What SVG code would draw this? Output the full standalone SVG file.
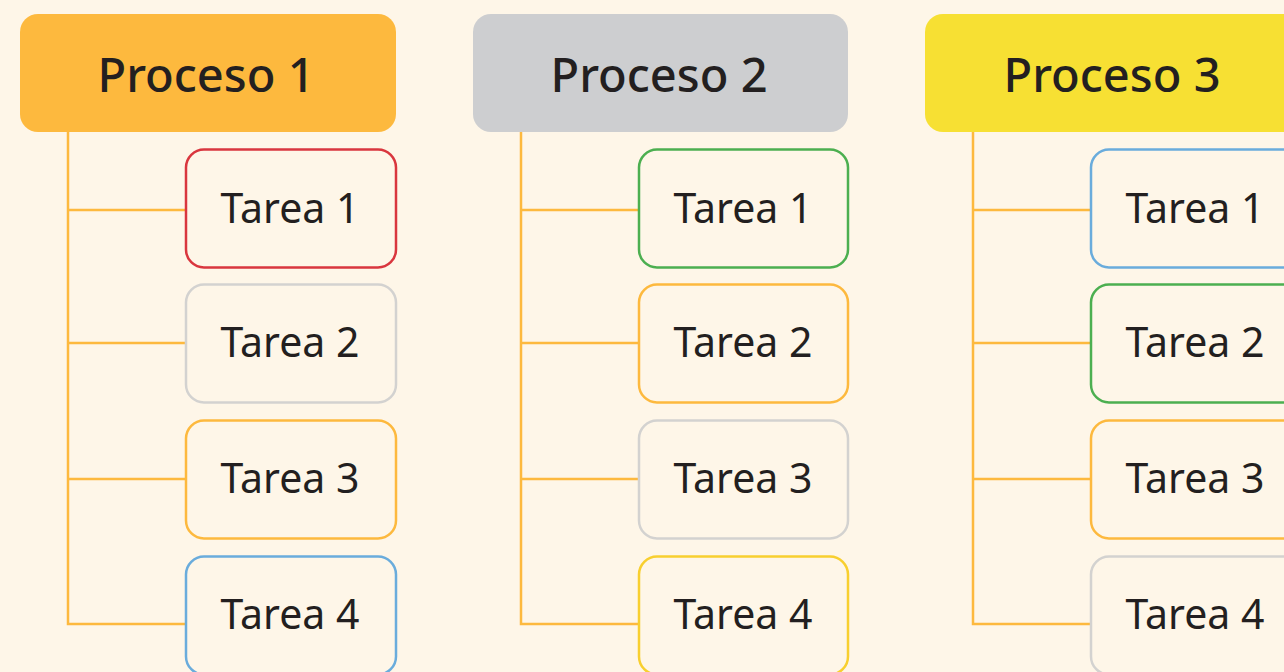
<svg xmlns="http://www.w3.org/2000/svg" width="1284" height="672" viewBox="0 0 1284 672">
<style>
.bg{fill:#FEF6E8}
.hd{stroke:none}
.hdt{font-family:"Noto Sans","Liberation Sans",sans-serif;font-size:47px;font-weight:500;fill:#231F20;text-anchor:middle}
.tk{fill:#FEF6E8;stroke-width:2.5}
.tkt{font-family:"Noto Sans","Liberation Sans",sans-serif;font-size:41px;font-weight:400;fill:#231F20;text-anchor:middle}
.ln{fill:none;stroke:#FDB93E;stroke-width:2.5}
.red{stroke:#D9363E}.gray{stroke:#D3D2D0}.orange{stroke:#FDB93E}.blue{stroke:#6AACDC}.green{stroke:#4CAF50}.yellow{stroke:#F8CF2F}
</style>
<rect class="bg" x="0" y="0" width="1284" height="672"/>
<g id="connectors">
<path class="ln" d="M68 132V624H186M68 210H186M68 343H186M68 479H186"/>
<path class="ln" d="M521 126V624H639M521 210H639M521 343H639M521 479H639"/>
<path class="ln" d="M973 126V624H1091M973 210H1091M973 343H1091M973 479H1091"/>
</g>
<g id="p1">
<rect class="hd" x="20" y="14" width="376" height="118" rx="18" fill="#FDB93E"/>
<text class="hdt" x="206" y="92">Proceso 1</text>
</g>
<g id="p1t1"><rect class="tk red" x="186" y="149.5" width="210" height="118" rx="18"/><text class="tkt" x="290" y="223">Tarea 1</text></g>
<g id="p1t2"><rect class="tk gray" x="186" y="284.5" width="210" height="118" rx="18"/><text class="tkt" x="290" y="357">Tarea 2</text></g>
<g id="p1t3"><rect class="tk orange" x="186" y="420.5" width="210" height="118" rx="18"/><text class="tkt" x="290" y="493">Tarea 3</text></g>
<g id="p1t4"><rect class="tk blue" x="186" y="556.5" width="210" height="118" rx="18"/><text class="tkt" x="290" y="629">Tarea 4</text></g>
<g id="p2">
<rect class="hd" x="473" y="14" width="375" height="118" rx="18" fill="#CDCED0"/>
<text class="hdt" x="659" y="92">Proceso 2</text>
</g>
<g id="p2t1"><rect class="tk green" x="639" y="149.5" width="209" height="118" rx="18"/><text class="tkt" x="743" y="223">Tarea 1</text></g>
<g id="p2t2"><rect class="tk orange" x="639" y="284.5" width="209" height="118" rx="18"/><text class="tkt" x="743" y="357">Tarea 2</text></g>
<g id="p2t3"><rect class="tk gray" x="639" y="420.5" width="209" height="118" rx="18"/><text class="tkt" x="743" y="493">Tarea 3</text></g>
<g id="p2t4"><rect class="tk yellow" x="639" y="556.5" width="209" height="118" rx="18"/><text class="tkt" x="743" y="629">Tarea 4</text></g>
<g id="p3">
<rect class="hd" x="925" y="14" width="375" height="118" rx="18" fill="#F7E033"/>
<text class="hdt" x="1112" y="92">Proceso 3</text>
</g>
<g id="p3t1"><rect class="tk blue" x="1091" y="149.5" width="210" height="118" rx="18"/><text class="tkt" x="1195" y="223">Tarea 1</text></g>
<g id="p3t2"><rect class="tk green" x="1091" y="284.5" width="210" height="118" rx="18"/><text class="tkt" x="1195" y="357">Tarea 2</text></g>
<g id="p3t3"><rect class="tk orange" x="1091" y="420.5" width="210" height="118" rx="18"/><text class="tkt" x="1195" y="493">Tarea 3</text></g>
<g id="p3t4"><rect class="tk gray" x="1091" y="556.5" width="210" height="118" rx="18"/><text class="tkt" x="1195" y="629">Tarea 4</text></g>
</svg>
